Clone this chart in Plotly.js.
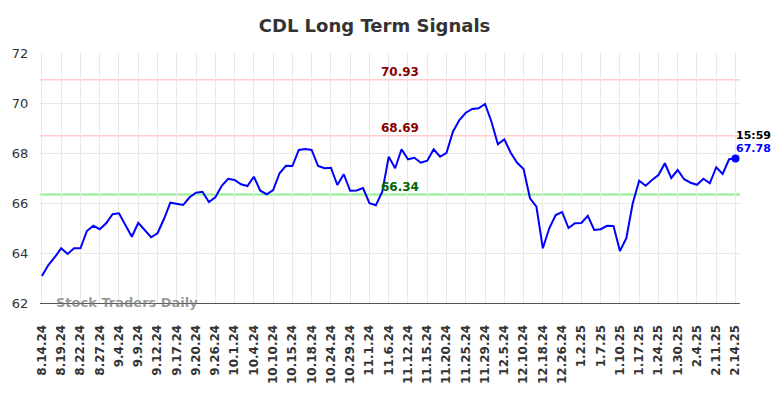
<!DOCTYPE html>
<html>
<head>
<meta charset="utf-8">
<script src="https://cdn.plot.ly/plotly-3.0.1.min.js"></script>
<style>html,body{margin:0;padding:0;background:#fff;}#chart{width:784px;height:398px;}</style>
</head>
<body>
<div id="chart"></div>
<script>
const tickLabels = ["8.14.24","8.19.24","8.22.24","8.27.24","9.4.24","9.9.24","9.12.24","9.17.24","9.20.24","9.26.24","10.1.24","10.4.24","10.10.24","10.15.24","10.18.24","10.24.24","10.29.24","11.1.24","11.6.24","11.12.24","11.15.24","11.20.24","11.25.24","11.29.24","12.5.24","12.10.24","12.18.24","12.26.24","1.2.25","1.7.25","1.10.25","1.17.25","1.24.25","1.30.25","2.4.25","2.11.25","2.14.25"];
const closeValues = [
63.08,63.52,63.83,64.19,63.96,64.19,64.19,64.88,65.09,64.95,
65.19,65.55,65.59,65.12,64.65,65.21,64.92,64.63,64.79,65.36,
66.01,65.97,65.92,66.23,66.41,66.45,66.04,66.23,66.69,66.97,
66.92,66.75,66.68,67.05,66.49,66.35,66.52,67.19,67.49,67.48,
68.12,68.16,68.12,67.48,67.39,67.41,66.72,67.15,66.49,66.50,
66.60,65.99,65.91,66.45,67.85,67.39,68.15,67.75,67.81,67.61,
67.69,68.15,67.85,68.01,68.85,69.32,69.61,69.76,69.79,69.96,
69.25,68.35,68.55,68.01,67.61,67.36,66.19,65.85,64.19,64.99,
65.52,65.64,65.00,65.19,65.20,65.49,64.92,64.95,65.09,65.08,
64.08,64.59,65.99,66.89,66.69,66.92,67.12,67.59,67.00,67.32,
66.95,66.81,66.73,66.97,66.79,67.43,67.16,67.75,67.78
];
const resistanceHigh = 70.93;
const resistanceLow = 68.69;
const supportLevel = 66.34;
const lastTime = "15:59";
const pointsPerTick = 3;

const xIdx = closeValues.map((v, i) => i);
const tickVals = tickLabels.map((t, i) => i * pointsPerTick);
const lastI = closeValues.length - 1;
const lastV = closeValues[lastI];

const font = "DejaVu Sans, sans-serif";

const traces = [
  {x: xIdx, y: closeValues, type: 'scatter', mode: 'lines',
   line: {color: '#0000ff', width: 2}, hoverinfo: 'skip'},
  {x: [lastI], y: [lastV], type: 'scatter', mode: 'markers',
   marker: {color: '#0000ff', size: 8}, hoverinfo: 'skip'}
];

const hline = (y, color, w) => ({type: 'line', xref: 'paper', x0: 0, x1: 1, yref: 'y', y0: y, y1: y,
  line: {color: color, width: w}, layer: 'below'});

const layout = {
  width: 784, height: 398,
  margin: {l: 40, r: 44, t: 53, b: 95},
  paper_bgcolor: '#ffffff', plot_bgcolor: '#ffffff',
  showlegend: false,
  title: {text: 'CDL Long Term Signals', font: {family: font, size: 18, color: '#333333', weight: 'bold'},
          x: 0.4777, xref: 'container', xanchor: 'center', y: 0.935, yref: 'container', yanchor: 'middle'},
  xaxis: {range: [-0.3, 108.7], tickvals: tickVals, ticktext: tickLabels, tickangle: -90,
          tickfont: {family: font, size: 12, color: '#333333', weight: 'bold'},
          showgrid: true, gridcolor: '#e8e8e8', gridwidth: 1,
          ticks: 'outside', ticklen: 16, tickcolor: 'rgba(0,0,0,0)',
          showline: true, linecolor: '#555555', linewidth: 1, zeroline: false, fixedrange: true},
  yaxis: {range: [62, 72], tickvals: [62,64,66,68,70,72],
          tickfont: {family: font, size: 13, color: '#333333'},
          showgrid: true, gridcolor: '#e8e8e8', gridwidth: 1,
          ticks: 'outside', ticklen: 8, tickcolor: 'rgba(0,0,0,0)',
          zeroline: false, showline: false, fixedrange: true},
  shapes: [
    hline(resistanceHigh, '#ffcccc', 1.5),
    hline(resistanceLow, '#ffcccc', 1.5),
    hline(supportLevel, '#90ee90', 2)
  ],
  annotations: [
    {xref: 'paper', x: 0.5136, yref: 'y', y: resistanceHigh, yshift: 7.5, yanchor: 'middle', showarrow: false,
     text: resistanceHigh.toFixed(2), font: {family: font, size: 12, color: '#8b0000', weight: 'bold'}},
    {xref: 'paper', x: 0.5136, yref: 'y', y: resistanceLow, yshift: 8, yanchor: 'middle', showarrow: false,
     text: resistanceLow.toFixed(2), font: {family: font, size: 12, color: '#8b0000', weight: 'bold'}},
    {xref: 'paper', x: 0.5136, yref: 'y', y: supportLevel, yshift: 7.5, yanchor: 'middle', showarrow: false,
     text: supportLevel.toFixed(2), font: {family: font, size: 12, color: '#006400', weight: 'bold'}},
    {xref: 'x', x: lastI, yref: 'y', y: lastV, xshift: 18, yshift: 23, showarrow: false,
     text: lastTime, font: {family: font, size: 11, color: '#000000', weight: 'bold'}},
    {xref: 'x', x: lastI, yref: 'y', y: lastV, xshift: 18, yshift: 10, showarrow: false,
     text: lastV.toFixed(2), font: {family: font, size: 11, color: '#0000ff', weight: 'bold'}},
    {xref: 'paper', x: 0.02, xanchor: 'left', yref: 'y', y: 62, yshift: 1, yanchor: 'middle', showarrow: false,
     text: 'Stock Traders Daily', font: {family: font, size: 13, color: 'rgba(120,120,120,0.75)', weight: 'bold'}}
  ]
};

Plotly.newPlot('chart', traces, layout, {staticPlot: true, displayModeBar: false});
</script>
</body>
</html>
